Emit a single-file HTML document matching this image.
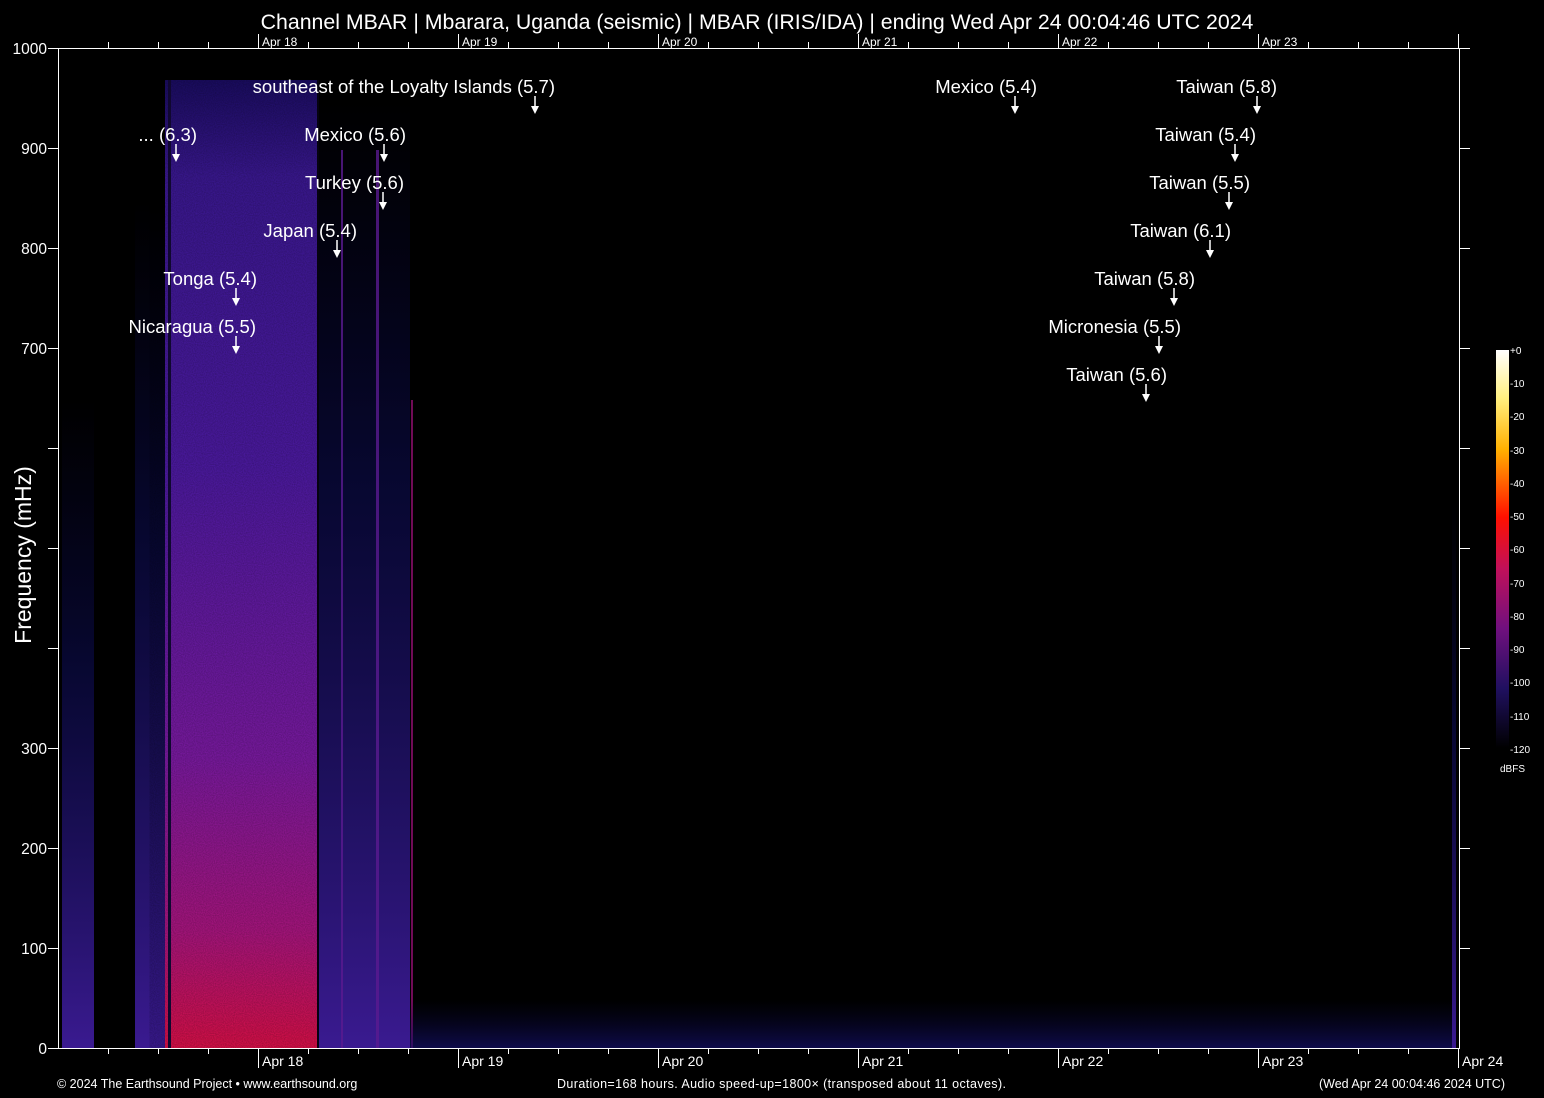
<!DOCTYPE html>
<html><head><meta charset="utf-8"><style>
html,body{margin:0;padding:0;background:#000;}
svg{display:block;font-family:"Liberation Sans",sans-serif;}
</style></head><body>
<svg width="1544" height="1098" viewBox="0 0 1544 1098" xmlns="http://www.w3.org/2000/svg">
<defs>
<linearGradient id="main" x1="0" y1="0" x2="0" y2="1">
<stop offset="0" stop-color="#1a0c60"/><stop offset="0.1" stop-color="#3a1890"/><stop offset="0.4" stop-color="#4c1aa0"/>
<stop offset="0.7" stop-color="#7a1aa0"/><stop offset="0.88" stop-color="#a8157e"/><stop offset="1" stop-color="#d81048"/>
</linearGradient>
<linearGradient id="side" x1="0" y1="0" x2="0" y2="1">
<stop offset="0" stop-color="#0a0840" stop-opacity="0"/><stop offset="0.4" stop-color="#0c0c50" stop-opacity="0.6"/><stop offset="1" stop-color="#3a1a90" stop-opacity="1"/>
</linearGradient>
<linearGradient id="floor" x1="0" y1="0" x2="0" y2="1">
<stop offset="0" stop-color="#0a0840" stop-opacity="0"/><stop offset="1" stop-color="#14106a" stop-opacity="0.7"/>
</linearGradient>
<linearGradient id="cb" x1="0" y1="0" x2="0" y2="1">
<stop offset="0" stop-color="#ffffff"/><stop offset="0.12" stop-color="#fff080"/><stop offset="0.25" stop-color="#ffb000"/>
<stop offset="0.42" stop-color="#ff1000"/><stop offset="0.55" stop-color="#c0105a"/><stop offset="0.7" stop-color="#70107e"/>
<stop offset="0.85" stop-color="#201060"/><stop offset="1" stop-color="#000000"/>
</linearGradient>
<filter id="noise"><feTurbulence type="fractalNoise" baseFrequency="0.9" numOctaves="1" seed="3"/><feColorMatrix values="0 0 0 0 0 0 0 0 0 0 0 0 0 0 0 0 0 0 -1.2 1"/></filter>
</defs>
<!-- spectrogram -->
<rect x="62" y="400" width="32" height="648" fill="url(#side)"/>
<rect x="135" y="200" width="32" height="848" fill="url(#side)"/>
<rect x="165" y="80" width="152" height="968" fill="url(#main)"/>
<rect x="165" y="80" width="152" height="968" filter="url(#noise)" opacity="0.3"/>
<rect x="168" y="80" width="3" height="968" fill="#100830"/>
<rect x="317" y="80" width="2" height="968" fill="#050310"/>
<rect x="319" y="100" width="91" height="948" fill="url(#side)"/>
<rect x="376" y="150" width="3" height="898" fill="#5a1a90" opacity="0.8"/>
<rect x="341" y="150" width="2" height="898" fill="#5a1a90" opacity="0.8"/>
<rect x="411" y="400" width="2" height="648" fill="#a0107a" opacity="0.7"/>
<rect x="410" y="1000" width="1045" height="48" fill="url(#floor)"/>
<rect x="1452" y="500" width="4" height="548" fill="url(#side)"/>
<!-- axes -->
<g stroke="#fff" stroke-width="1" fill="none">
<line x1="58.5" y1="48" x2="58.5" y2="1048"/>
<line x1="1459.5" y1="48" x2="1459.5" y2="1048"/>
<line x1="58" y1="1048.5" x2="1460" y2="1048.5"/>
<line x1="58" y1="48.5" x2="1460" y2="48.5"/>
</g>
<g stroke="#fff" stroke-width="1">
<line x1="48" y1="48.5" x2="58" y2="48.5"/><line x1="48" y1="148.5" x2="58" y2="148.5"/>
<line x1="48" y1="248.5" x2="58" y2="248.5"/><line x1="48" y1="348.5" x2="58" y2="348.5"/>
<line x1="48" y1="448.5" x2="58" y2="448.5"/><line x1="48" y1="548.5" x2="58" y2="548.5"/>
<line x1="48" y1="648.5" x2="58" y2="648.5"/><line x1="48" y1="748.5" x2="58" y2="748.5"/>
<line x1="48" y1="848.5" x2="58" y2="848.5"/><line x1="48" y1="948.5" x2="58" y2="948.5"/>
<line x1="48" y1="1048.5" x2="58" y2="1048.5"/>
<line x1="1460" y1="148.5" x2="1470" y2="148.5"/><line x1="1460" y1="248.5" x2="1470" y2="248.5"/>
<line x1="1460" y1="348.5" x2="1470" y2="348.5"/><line x1="1460" y1="448.5" x2="1470" y2="448.5"/>
<line x1="1460" y1="548.5" x2="1470" y2="548.5"/><line x1="1460" y1="648.5" x2="1470" y2="648.5"/>
<line x1="1460" y1="748.5" x2="1470" y2="748.5"/><line x1="1460" y1="848.5" x2="1470" y2="848.5"/>
<line x1="1460" y1="948.5" x2="1470" y2="948.5"/><line x1="1460" y1="48.5" x2="1470" y2="48.5"/>
</g>
<g stroke="#fff" stroke-width="1">
<path d="M108.5 1048v6M158.5 1048v6M208.5 1048v6M308.5 1048v6M358.5 1048v6M408.5 1048v6M508.5 1048v6M558.5 1048v6M608.5 1048v6M708.5 1048v6M758.5 1048v6M808.5 1048v6M908.5 1048v6M958.5 1048v6M1008.5 1048v6M1108.5 1048v6M1158.5 1048v6M1208.5 1048v6M1308.5 1048v6M1358.5 1048v6M1408.5 1048v6"/>
<path d="M258.5 1048v20M458.5 1048v20M658.5 1048v20M858.5 1048v20M1058.5 1048v20M1258.5 1048v20M1458.5 1048v20"/>
<path d="M108.5 48v-6M158.5 48v-6M208.5 48v-6M308.5 48v-6M358.5 48v-6M408.5 48v-6M508.5 48v-6M558.5 48v-6M608.5 48v-6M708.5 48v-6M758.5 48v-6M808.5 48v-6M908.5 48v-6M958.5 48v-6M1008.5 48v-6M1108.5 48v-6M1158.5 48v-6M1208.5 48v-6M1308.5 48v-6M1358.5 48v-6M1408.5 48v-6"/>
<path d="M258.5 48v-14M458.5 48v-14M658.5 48v-14M858.5 48v-14M1058.5 48v-14M1258.5 48v-14M1458.5 48v-14"/>
</g>
<g fill="#fff" font-size="14">
<text x="262" y="1066">Apr 18</text><text x="462" y="1066">Apr 19</text><text x="662" y="1066">Apr 20</text>
<text x="862" y="1066">Apr 21</text><text x="1062" y="1066">Apr 22</text><text x="1262" y="1066">Apr 23</text><text x="1462" y="1066">Apr 24</text>
</g>
<g fill="#fff" font-size="12">
<text x="262" y="46">Apr 18</text><text x="462" y="46">Apr 19</text><text x="662" y="46">Apr 20</text>
<text x="862" y="46">Apr 21</text><text x="1062" y="46">Apr 22</text><text x="1262" y="46">Apr 23</text>
</g>
<g fill="#fff" font-size="15.5" text-anchor="end">
<text x="47" y="54">1000</text><text x="47" y="154">900</text><text x="47" y="254">800</text><text x="47" y="354">700</text>
<text x="47" y="754">300</text><text x="47" y="854">200</text><text x="47" y="954">100</text><text x="47" y="1054">0</text>
</g>
<text transform="translate(31,555) rotate(-90)" text-anchor="middle" fill="#fff" font-size="23">Frequency (mHz)</text>
<text x="757" y="29" text-anchor="middle" fill="#fff" font-size="21.3">Channel MBAR | Mbarara, Uganda (seismic) | MBAR (IRIS/IDA) | ending Wed Apr 24 00:04:46 UTC 2024</text>
<g fill="#fff" font-size="12.5">
<text x="57" y="1088">© 2024 The Earthsound Project • www.earthsound.org</text>
<text x="557" y="1088" textLength="449">Duration=168 hours. Audio speed-up=1800× (transposed about 11 octaves).</text>
<text x="1505" y="1088" text-anchor="end">(Wed Apr 24 00:04:46 2024 UTC)</text>
</g>
<!-- colorbar -->
<rect x="1496" y="350" width="13" height="398" fill="url(#cb)"/>
<g fill="#fff" font-size="10">
<text x="1510" y="354">+0</text><text x="1510" y="387">-10</text><text x="1510" y="420">-20</text><text x="1510" y="454">-30</text>
<text x="1510" y="487">-40</text><text x="1510" y="520">-50</text><text x="1510" y="553">-60</text><text x="1510" y="587">-70</text>
<text x="1510" y="620">-80</text><text x="1510" y="653">-90</text><text x="1510" y="686">-100</text><text x="1510" y="720">-110</text>
<text x="1510" y="753">-120</text><text x="1500" y="772">dBFS</text>
</g>
<!-- annotations -->
<g fill="#fff" font-size="18.5" text-anchor="end">
<text x="555" y="93">southeast of the Loyalty Islands (5.7)</text>
<text x="1037" y="93">Mexico (5.4)</text>
<text x="1277" y="93">Taiwan (5.8)</text>
<text x="197" y="141">... (6.3)</text>
<text x="406" y="141">Mexico (5.6)</text>
<text x="1256" y="141">Taiwan (5.4)</text>
<text x="404" y="189">Turkey (5.6)</text>
<text x="1250" y="189">Taiwan (5.5)</text>
<text x="357" y="237">Japan (5.4)</text>
<text x="1231" y="237">Taiwan (6.1)</text>
<text x="257" y="285">Tonga (5.4)</text>
<text x="1195" y="285">Taiwan (5.8)</text>
<text x="256" y="333">Nicaragua (5.5)</text>
<text x="1181" y="333">Micronesia (5.5)</text>
<text x="1167" y="381">Taiwan (5.6)</text>
</g>
<g stroke="#fff" stroke-width="1.5" fill="#fff">
<path d="M535 96v11M1015 96v11M1257 96v11M176 144v11M384 144v11M1235 144v11M383 192v11M1229 192v11M337 240v11M1210 240v11M236 288v11M1174 288v11M236 336v11M1159 336v11M1146 384v11"/>
</g>
<g fill="#fff">
<path d="M531 106h8l-4 8z M1011 106h8l-4 8z M1253 106h8l-4 8z M172 154h8l-4 8z M380 154h8l-4 8z M1231 154h8l-4 8z M379 202h8l-4 8z M1225 202h8l-4 8z M333 250h8l-4 8z M1206 250h8l-4 8z M232 298h8l-4 8z M1170 298h8l-4 8z M232 346h8l-4 8z M1155 346h8l-4 8z M1142 394h8l-4 8z"/>
</g>
</svg>
</body></html>
